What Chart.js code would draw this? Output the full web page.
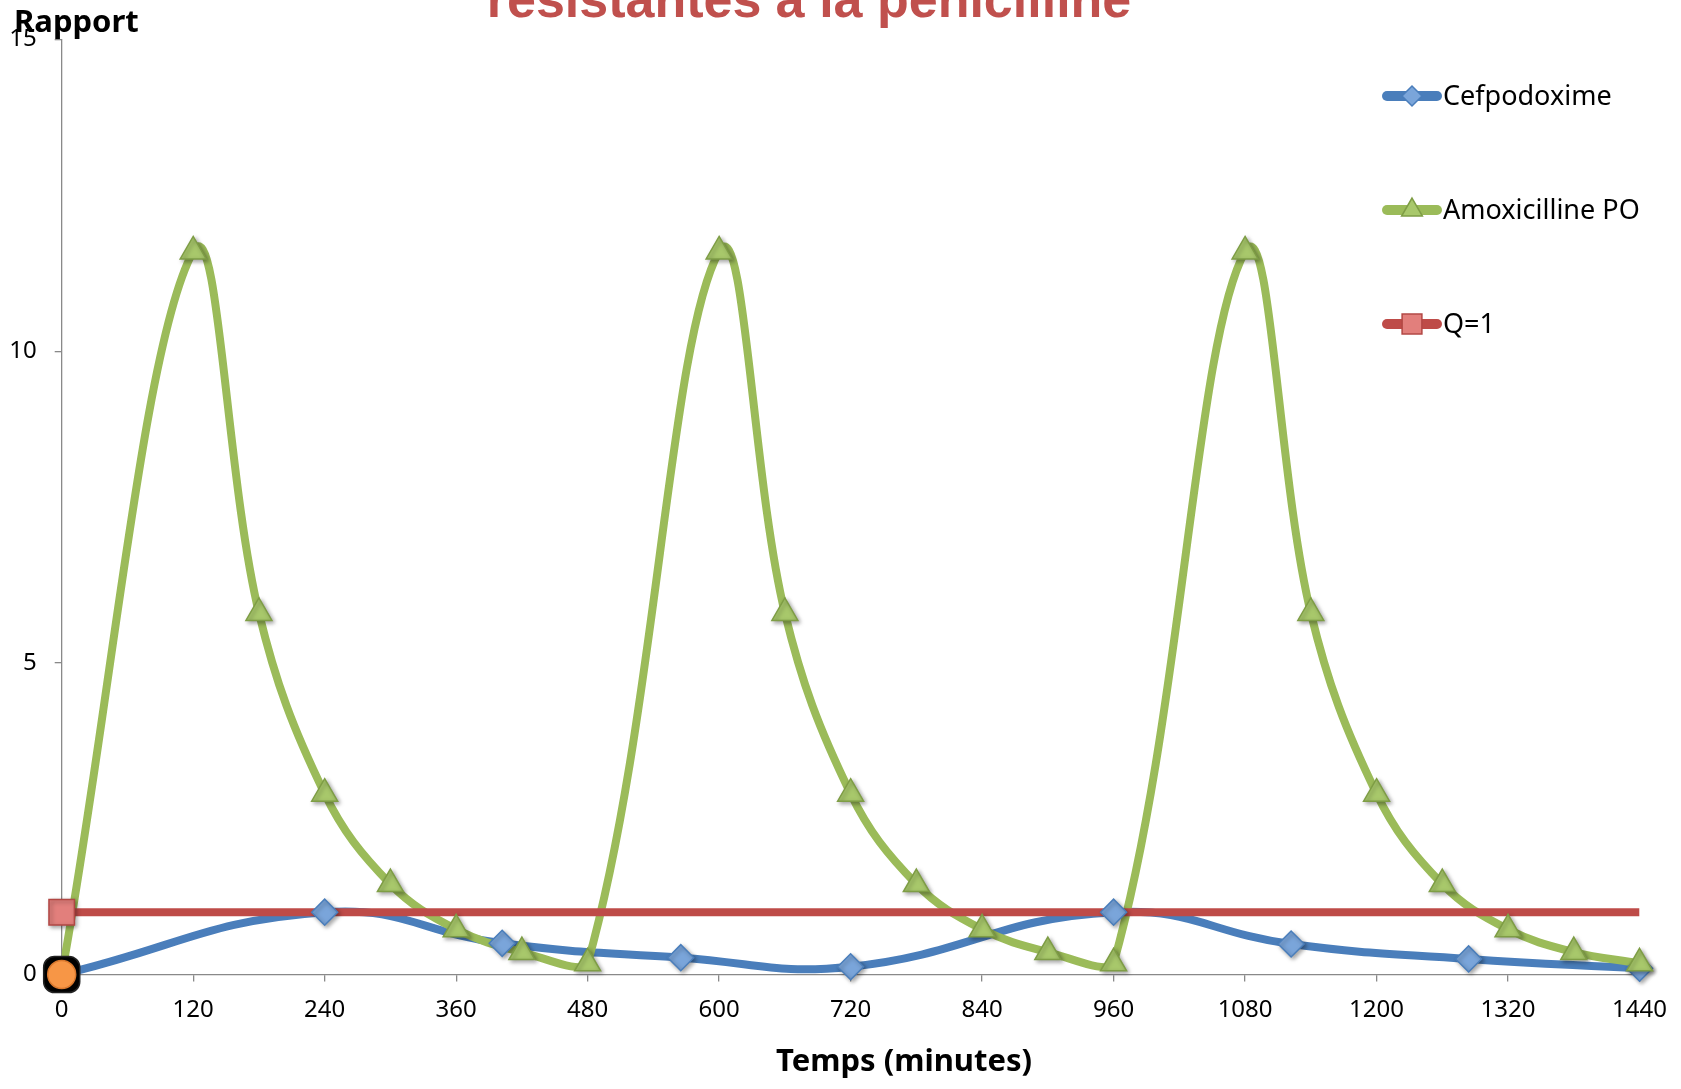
<!DOCTYPE html>
<html><head><meta charset="utf-8">
<script src="https://cdn.jsdelivr.net/npm/chart.js@4.4.1/dist/chart.umd.min.js"></script>
<style>html,body{margin:0;padding:0;background:#fff;overflow:hidden}
#wrap{position:relative;width:1681px;height:1089px}</style>
</head><body><div id="wrap"><canvas id="c" width="1681" height="1089"></canvas></div>
<script>
// ---- data ----
const titleText = 'résistantes à la pénicilline';
const yAxisTitle = 'Rapport';
const xAxisTitle = 'Temps (minutes)';
const seriesNames = ['Cefpodoxime', 'Amoxicilline PO', 'Q=1'];

const cefpoTimes  = [0, 240, 402, 565, 720, 960, 1122, 1284, 1440];
const cefpoValues = [0, 1.0, 0.5, 0.27, 0.125, 1.0, 0.49, 0.25, 0.1];

const amoxTimes  = [0, 120, 180, 240, 300, 360, 420, 480, 600, 660, 720, 780, 840, 900, 960, 1080, 1140, 1200, 1260, 1320, 1380, 1440];
const amoxValues = [0, 11.6, 5.8, 2.9, 1.45, 0.725, 0.36, 0.18, 11.6, 5.8, 2.9, 1.45, 0.725, 0.36, 0.18, 11.6, 5.8, 2.9, 1.45, 0.725, 0.36, 0.18];

const qTimes  = [0, 1440];
const qValues = [1, 1];

const originTimes  = [0];
const originValues = [0];

const xTickValues = [0, 120, 240, 360, 480, 600, 720, 840, 960, 1080, 1200, 1320, 1440];
const yTickValues = [0, 5, 10, 15];

// ---- build ----
const pts = (t, v) => t.map((x, i) => ({x: x, y: v[i]}));
const BLUE = '#4A7EBB', GREEN = '#9BBB59', RED = '#BE4B48';
const AXIS = '#898989';
const FONT = "'Noto Sans', 'Open Sans', sans-serif";

const shadowPlugin = {
  id: 'shadow',
  beforeDatasetDraw(chart, args) {
    const ds = chart.data.datasets[args.index];
    if (ds.shadow) {
      const ctx = chart.ctx;
      ctx.save();
      ctx.shadowColor = 'rgba(0,0,0,0.35)';
      ctx.shadowBlur = 4;
      ctx.shadowOffsetX = 2;
      ctx.shadowOffsetY = 2;
    }
  },
  afterDatasetDraw(chart, args) {
    const ds = chart.data.datasets[args.index];
    if (ds.shadow) chart.ctx.restore();
  }
};

function marker(ctx, style, r, x, y) {
  ctx.beginPath();
  if (style === 'rectRot') {
    ctx.moveTo(x - r, y); ctx.lineTo(x, y - r); ctx.lineTo(x + r, y); ctx.lineTo(x, y + r);
  } else if (style === 'triangle') {
    const w = r * Math.sqrt(3) / 2;
    ctx.moveTo(x, y - r); ctx.lineTo(x + w, y + r / 2); ctx.lineTo(x - w, y + r / 2);
  } else {
    const s = r * Math.SQRT1_2;
    ctx.rect(x - s, y - s, 2 * s, 2 * s);
  }
  ctx.closePath();
  ctx.fill();
  ctx.stroke();
}

const textPlugin = {
  id: 'texts',
  afterDraw(chart) {
    const ctx = chart.ctx;
    ctx.save();
    // title (cut by top edge)
    ctx.fillStyle = '#C0504D';
    ctx.font = "bold 52px 'Liberation Sans', Arial, sans-serif";
    ctx.textAlign = 'center';
    ctx.textBaseline = 'alphabetic';
    ctx.fillText(titleText, 809, 17);
    // y axis title
    ctx.fillStyle = '#000';
    ctx.font = 'bold 31px ' + FONT;
    ctx.textAlign = 'left';
    ctx.fillText(yAxisTitle, 14, 32);
    // x axis title
    ctx.textAlign = 'center';
    ctx.fillText(xAxisTitle, 904, 1071);
    // legend
    const items = [
      {name: seriesNames[0], color: BLUE, style: 'rectRot', r: 10, fill: '#7AA5DA', border: '#4A7EBB', y: 96},
      {name: seriesNames[1], color: GREEN, style: 'triangle', r: 12, fill: '#A8C86B', border: '#7E9D45', y: 210},
      {name: seriesNames[2], color: RED, style: 'rect', r: 14, fill: '#E27F7C', border: '#B24744', y: 324}
    ];
    items.forEach(it => {
      ctx.strokeStyle = it.color;
      ctx.lineWidth = 10;
      ctx.lineCap = 'round';
      ctx.beginPath();
      ctx.moveTo(1387, it.y);
      ctx.lineTo(1437, it.y);
      ctx.stroke();
      ctx.fillStyle = it.fill;
      ctx.strokeStyle = it.border;
      ctx.lineWidth = 1.5;
      ctx.lineCap = 'butt';
      marker(ctx, it.style, it.r, 1412, it.y);
      ctx.fillStyle = '#000';
      ctx.font = '27px ' + FONT;
      ctx.textAlign = 'left';
      ctx.textBaseline = 'middle';
      ctx.fillText(it.name, 1443, it.y + 1);
    });
    ctx.restore();
  }
};

const lineBase = {pointRadius: 0, borderWidth: 8, fill: false, clip: 0, borderCapStyle: 'butt', borderJoinStyle: 'round'};
const markBase = {showLine: false, clip: false, shadow: true, pointBorderWidth: 1.5, borderWidth: 0};

new Chart(document.getElementById('c'), {
  type: 'line',
  data: {
    datasets: [
      Object.assign({}, markBase, {label: 'origin', data: pts(originTimes, originValues), order: 0, shadow: false,
        pointStyle: 'circle', pointRadius: 14, pointBackgroundColor: '#F79646', pointBorderColor: '#D9782E'}),
      Object.assign({}, markBase, {label: 'origin-blob', data: pts(originTimes, originValues), order: 1, shadow: false,
        pointStyle: 'rectRounded', pointRadius: 21, pointBackgroundColor: '#000', pointBorderColor: '#222'}),
      Object.assign({}, markBase, {label: seriesNames[1] + ' markers', data: pts(amoxTimes, amoxValues), order: 2,
        pointStyle: 'triangle', pointRadius: 15, pointBackgroundColor: '#A8C86B', pointBorderColor: '#7E9D45'}),
      Object.assign({}, markBase, {label: seriesNames[0] + ' markers', data: pts(cefpoTimes, cefpoValues), order: 3,
        pointStyle: 'rectRot', pointRadius: 13, pointBackgroundColor: '#7AA5DA', pointBorderColor: '#4A7EBB'}),
      Object.assign({}, markBase, {label: seriesNames[2] + ' markers', data: pts(qTimes, qValues), order: 4,
        pointStyle: 'rect', pointRadius: qTimes.map((t, i) => i === 0 ? 18 : 0), pointBackgroundColor: '#E27F7C', pointBorderColor: '#B24744'}),
      Object.assign({}, lineBase, {label: seriesNames[2], data: pts(qTimes, qValues), order: 5, borderColor: RED, tension: 0}),
      Object.assign({}, lineBase, {label: seriesNames[1], data: pts(amoxTimes, amoxValues), order: 6, borderColor: GREEN, tension: 0.38}),
      Object.assign({}, lineBase, {label: seriesNames[0], data: pts(cefpoTimes, cefpoValues), order: 7, borderColor: BLUE, tension: 0.45})
    ]
  },
  options: {
    responsive: false,
    animation: false,
    events: [],
    layout: {padding: {top: 39.5, right: 40, bottom: 0, left: 0}},
    plugins: {legend: {display: false}, tooltip: {enabled: false}, title: {display: false}},
    scales: {
      x: {
        type: 'linear', min: 0, max: 1440,
        afterBuildTicks: s => { s.ticks = xTickValues.map(v => ({value: v})); },
        afterFit: s => { s.height = 114.5; },
        ticks: {autoSkip: false, maxRotation: 0, padding: 14, color: '#000', font: {family: FONT, size: 24},
          callback: v => String(v)},
        grid: {display: true, drawOnChartArea: false, drawTicks: true, tickLength: 7, color: AXIS, lineWidth: 1.3},
        border: {display: true, color: AXIS, width: 1.3}
      },
      y: {
        type: 'linear', min: 0, max: 15,
        afterBuildTicks: s => { s.ticks = yTickValues.map(v => ({value: v})); },
        afterFit: s => { s.width = 61.7; },
        ticks: {padding: 18, color: '#000', font: {family: FONT, size: 24}, callback: v => String(v)},
        grid: {display: true, drawOnChartArea: false, drawTicks: true, tickLength: 7, color: AXIS, lineWidth: 1.3},
        border: {display: true, color: AXIS, width: 1.3}
      }
    }
  },
  plugins: [shadowPlugin, textPlugin]
});
</script>
</body></html>
